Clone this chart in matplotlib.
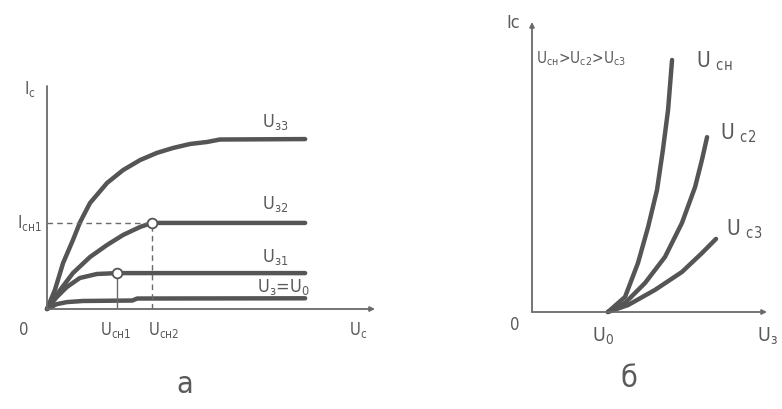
import matplotlib
matplotlib.use("Agg")
import matplotlib.pyplot as plt

plt.rcParams['font.family'] = ['DejaVu Sans']
plt.rcParams['font.stretch'] = 'condensed'
plt.rcParams['mathtext.fontset'] = 'dejavusans'

# ---- panel a: output characteristics Ic(Uc) ----
u33_x = [0, 0.24, 0.49, 0.79, 1.01, 1.31, 1.83, 2.32, 2.84, 3.35, 3.84, 4.36, 4.88, 5.27, 7.87]
u33_y = [0, 0.85, 2.06, 3.09, 3.9, 4.75, 5.65, 6.23, 6.68, 7.0, 7.22, 7.4, 7.49, 7.6, 7.62]
u32_x = [0, 0.4, 0.79, 1.31, 1.83, 2.32, 2.84, 3.2, 7.87]
u32_y = [0, 0.85, 1.61, 2.33, 2.87, 3.32, 3.68, 3.86, 3.86]
u31_x = [0, 0.3, 0.61, 1.0, 1.52, 2.13, 7.87]
u31_y = [0, 0.54, 0.99, 1.39, 1.57, 1.61, 1.61]
u30_x = [0, 0.3, 0.61, 1.1, 2.6, 2.75, 7.87]
u30_y = [0, 0.22, 0.31, 0.36, 0.38, 0.47, 0.48]
sat_x = [2.13, 3.2]        # Uсн1, Uсн2
sat_y = [1.61, 3.86]

# ---- panel б: transfer characteristics Ic(Uз) ----
u0 = 3.23
ucn_x = [3.23, 3.96, 4.51, 4.94, 5.32, 5.57, 5.79, 5.96]
ucn_y = [0, 0.52, 1.69, 2.93, 4.21, 5.59, 6.97, 8.69]
uc2_x = [3.23, 3.96, 4.81, 5.66, 6.38, 6.94, 7.23, 7.45]
uc2_y = [0, 0.31, 1.0, 1.9, 3.07, 4.31, 5.24, 6.03]
uc3_x = [3.23, 4.09, 5.23, 6.38, 7.23, 7.83]
uc3_y = [0, 0.24, 0.76, 1.38, 2.03, 2.52]

line_c = '#555555'
axis_c = '#6a6a6a'
text_c = '#5a5a5a'
W, H = 782, 409

fig = plt.figure(figsize=(7.82, 4.09), dpi=100)
fig.patch.set_facecolor('white')


def make_axes(x0, y0, x1, y1):
    ax = fig.add_axes([x0 / W, (H - y0) / H, (x1 - x0) / W, (y0 - y1) / H])
    ax.set_xlim(0, 10)
    ax.set_ylim(0, 10)
    ax.axis('off')
    return ax


def draw_axes_lines(ax, arrow_y=True):
    ax.annotate('', xy=(1, 0), xytext=(0, 0), xycoords='axes fraction',
                arrowprops=dict(arrowstyle='-|>', color=axis_c, lw=1.3,
                                mutation_scale=7, shrinkA=0, shrinkB=0))
    ax.annotate('', xy=(0, 1), xytext=(0, 0), xycoords='axes fraction',
                arrowprops=dict(arrowstyle='-|>' if arrow_y else '-', color=axis_c,
                                lw=1.3, mutation_scale=7, shrinkA=0, shrinkB=0))


# panel a
ax1 = make_axes(47, 309, 375, 86)
draw_axes_lines(ax1, arrow_y=False)
for xs, ys in [(u33_x, u33_y), (u32_x, u32_y), (u31_x, u31_y), (u30_x, u30_y)]:
    ax1.plot(xs, ys, color=line_c, lw=3.2, solid_capstyle='round',
             solid_joinstyle='round', clip_on=False)
ax1.plot([0, sat_x[1]], [sat_y[1], sat_y[1]], color=axis_c, lw=1, ls=(0, (4, 3)))
ax1.plot([sat_x[1], sat_x[1]], [0, sat_y[1]], color=axis_c, lw=1, ls=(0, (4, 3)))
ax1.plot([sat_x[0], sat_x[0]], [0, sat_y[0]], color=axis_c, lw=1)
ax1.plot(sat_x, sat_y, 'o', ms=7, mfc='white', mec=line_c, mew=1.3, zorder=5)

fs_a = 13
ax1.text(6.55, 8.4, r'U$\mathregular{_{з3}}$', fontsize=fs_a, color=text_c, va='center')
ax1.text(6.55, 4.7, r'U$\mathregular{_{з2}}$', fontsize=fs_a, color=text_c, va='center')
ax1.text(6.55, 2.35, r'U$\mathregular{_{з1}}$', fontsize=fs_a, color=text_c, va='center')
ax1.text(6.4, 1.0, r'U$\mathregular{_{з}}$=U$\mathregular{_{0}}$', fontsize=fs_a,
         color=text_c, va='center')
ax1.text(-0.35, 9.85, r'I$\mathregular{_{c}}$', fontsize=12, color=text_c,
         ha='right', va='center')
ax1.text(-0.15, sat_y[1], r'I$\mathregular{_{сн1}}$', fontsize=12, color=text_c,
         ha='right', va='center')
ax1.text(-0.7, -0.95, '0', fontsize=12, color=text_c, ha='center', va='center')
ax1.text(sat_x[0] - 0.05, -0.95, r'U$\mathregular{_{сн1}}$', fontsize=12, color=text_c,
         ha='center', va='center')
ax1.text(sat_x[1] + 0.35, -0.95, r'U$\mathregular{_{сн2}}$', fontsize=12, color=text_c,
         ha='center', va='center')
ax1.text(9.5, -0.95, r'U$\mathregular{_{c}}$', fontsize=12, color=text_c,
         ha='center', va='center')
ax1.text(4.2, -3.4, 'а', fontsize=22, color=text_c, ha='center', va='center')

# panel б
ax2 = make_axes(532, 312, 767, 22)
draw_axes_lines(ax2, arrow_y=True)
for xs, ys in [(ucn_x, ucn_y), (uc2_x, uc2_y), (uc3_x, uc3_y)]:
    ax2.plot(xs, ys, color=line_c, lw=3.2, solid_capstyle='round',
             solid_joinstyle='round', clip_on=False)

fs_b = 15
ax2.text(7.0, 8.65, r'U $\mathregular{_{сн}}$', fontsize=fs_b, color=text_c, va='center')
ax2.text(8.0, 6.15, r'U $\mathregular{_{c2}}$', fontsize=fs_b, color=text_c, va='center')
ax2.text(8.25, 2.85, r'U $\mathregular{_{c3}}$', fontsize=fs_b, color=text_c, va='center')
ax2.text(0.15, 8.75, r'U$\mathregular{_{сн}}$>U$\mathregular{_{c2}}$>U$\mathregular{_{c3}}$',
         fontsize=11, color=text_c, va='center')
ax2.text(-0.5, 9.95, 'Ic', fontsize=13, color=text_c, ha='right', va='center')
ax2.text(-0.72, -0.45, '0', fontsize=12, color=text_c, ha='center', va='center')
ax2.text(u0 - 0.2, -0.85, r'U$\mathregular{_{0}}$', fontsize=14, color=text_c,
         ha='center', va='center')
ax2.text(10.0, -0.85, r'U$\mathregular{_{з}}$', fontsize=14, color=text_c,
         ha='center', va='center')
ax2.text(4.1, -2.3, 'б', fontsize=22, color=text_c, ha='center', va='center')

fig.savefig('out.png', dpi=100, facecolor='white')
